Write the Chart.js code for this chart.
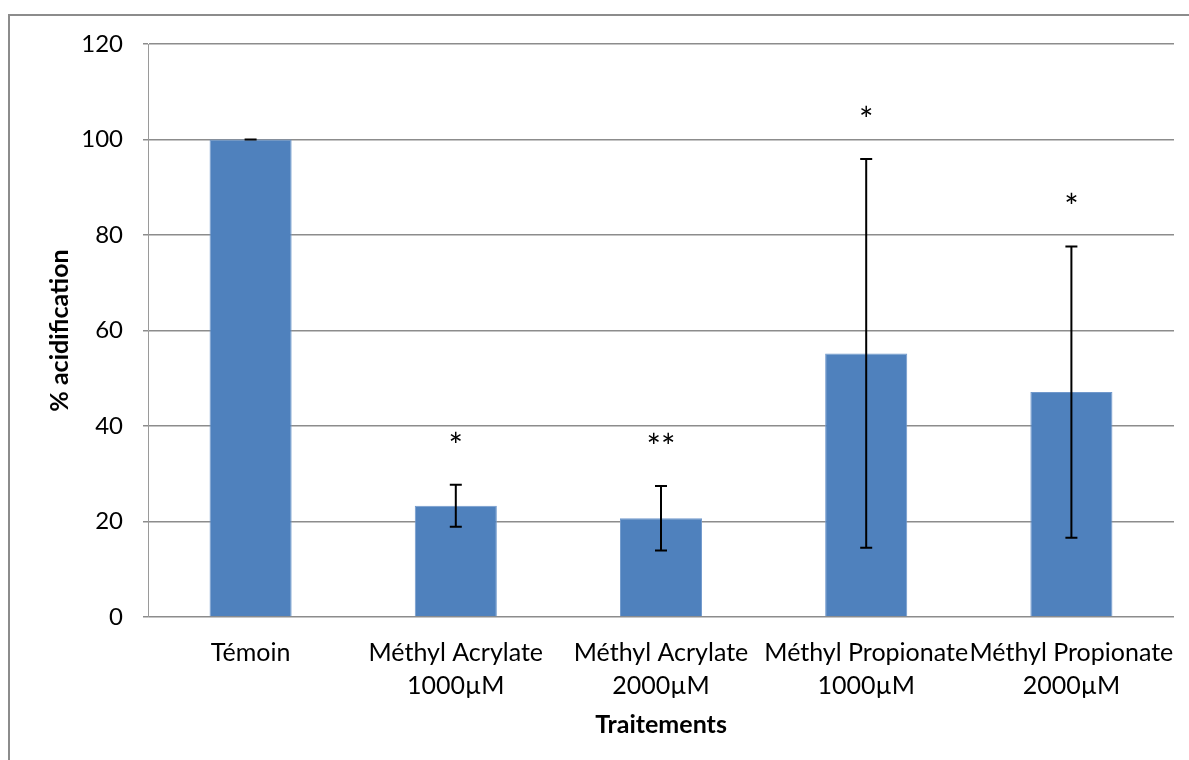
<!DOCTYPE html>
<html>
<head>
<meta charset="utf-8">
<script src="https://cdn.jsdelivr.net/npm/chart.js@4"></script>
<style>
html,body{margin:0;padding:0;background:#fff;}
#wrap{width:1189px;height:760px;position:relative;}
</style>
</head>
<body>
<div id="wrap"><canvas id="c" width="1189" height="760"></canvas></div>
<script>
const categories = [["Témoin"], ["Méthyl Acrylate", "1000µM"], ["Méthyl Acrylate", "2000µM"], ["Méthyl Propionate", "1000µM"], ["Méthyl Propionate", "2000µM"]];
const values = [100, 23.3, 20.7, 55.2, 47.1];
const errors = [0, 4.4, 6.75, 40.7, 30.5];
const significance = ["", "*", "**", "*", "*"];
const yTicks = [0, 20, 40, 60, 80, 100, 120];

const FONT = "Lato, 'Open Sans', sans-serif";

const framePlugin = {
  id: 'frame',
  beforeDraw(chart) {
    const ctx = chart.ctx;
    ctx.save();
    ctx.fillStyle = '#fff';
    ctx.fillRect(0, 0, chart.width, chart.height);
    ctx.strokeStyle = '#8c8c8c';
    ctx.lineWidth = 2;
    ctx.strokeRect(9, 15, 1400, 1000);
    ctx.restore();
  }
};

const errorPlugin = {
  id: 'errors',
  afterDatasetsDraw(chart) {
    const ctx = chart.ctx;
    const meta = chart.getDatasetMeta(0);
    const y = chart.scales.y;
    ctx.save();
    ctx.strokeStyle = '#000';
    ctx.lineWidth = 2;
    meta.data.forEach((bar, i) => {
      const x = bar.x;
      const top = y.getPixelForValue(values[i] + errors[i]);
      const bot = y.getPixelForValue(values[i] - errors[i]);
      ctx.beginPath();
      ctx.moveTo(x, top); ctx.lineTo(x, bot);
      ctx.moveTo(x - 6, top); ctx.lineTo(x + 6, top);
      ctx.moveTo(x - 6, bot); ctx.lineTo(x + 6, bot);
      ctx.stroke();
      if (significance[i]) {
        ctx.fillStyle = '#000';
        ctx.font = "34px " + FONT;
        ctx.textAlign = 'center';
        ctx.textBaseline = 'alphabetic';
        const m = ctx.measureText(significance[i]);
        const cy = top - 48;
        ctx.fillText(significance[i], x, cy + (m.actualBoundingBoxAscent - m.actualBoundingBoxDescent) / 2);
      }
    });
    ctx.restore();
  }
};

new Chart(document.getElementById('c'), {
  type: 'bar',
  data: {
    labels: categories,
    datasets: [{
      data: values,
      backgroundColor: '#4f81bd',
      borderColor: '#7199cc',
      borderWidth: 1,
      barPercentage: 0.4,
      categoryPercentage: 1.0
    }]
  },
  options: {
    responsive: false,
    animation: false,
    devicePixelRatio: 1,
    layout: { padding: { top: 44, right: 15, bottom: 0, left: 0 } },
    plugins: { legend: { display: false }, tooltip: { enabled: false } },
    scales: {
      x: {
        grid: { display: false, drawTicks: false },
        border: { display: false },
        ticks: {
          color: '#000',
          font: { family: FONT, size: 25, lineHeight: 1.33 },
          padding: 19,
          maxRotation: 0,
          autoSkip: false
        },
        title: {
          display: true,
          text: 'Traitements',
          color: '#000',
          font: { family: FONT, size: 25, weight: 'bold', lineHeight: 1.2 },
          padding: { top: 0, bottom: 20 }
        },
        afterFit(scale) { scale.height = 143; scale.paddingLeft = 0; scale.paddingRight = 0; }
      },
      y: {
        min: 0, max: 120,
        afterBuildTicks(scale) { scale.ticks = yTicks.map(v => ({ value: v })); },
        grid: { color: '#8c8c8c', lineWidth: 1.5, drawTicks: true, tickLength: 5, tickColor: '#8c8c8c' },
        border: { display: true, color: '#9a9a9a', width: 1 },
        ticks: {
          color: '#000',
          font: { family: FONT, size: 24 },
          padding: 20
        },
        title: {
          display: true,
          text: '% acidification',
          color: '#000',
          font: { family: FONT, size: 25, weight: 'bold', lineHeight: 1.2 },
          padding: { top: 45, bottom: 0 }
        },
        afterFit(scale) { scale.width = 148; }
      }
    }
  },
  plugins: [framePlugin, errorPlugin]
});
</script>
</body>
</html>
